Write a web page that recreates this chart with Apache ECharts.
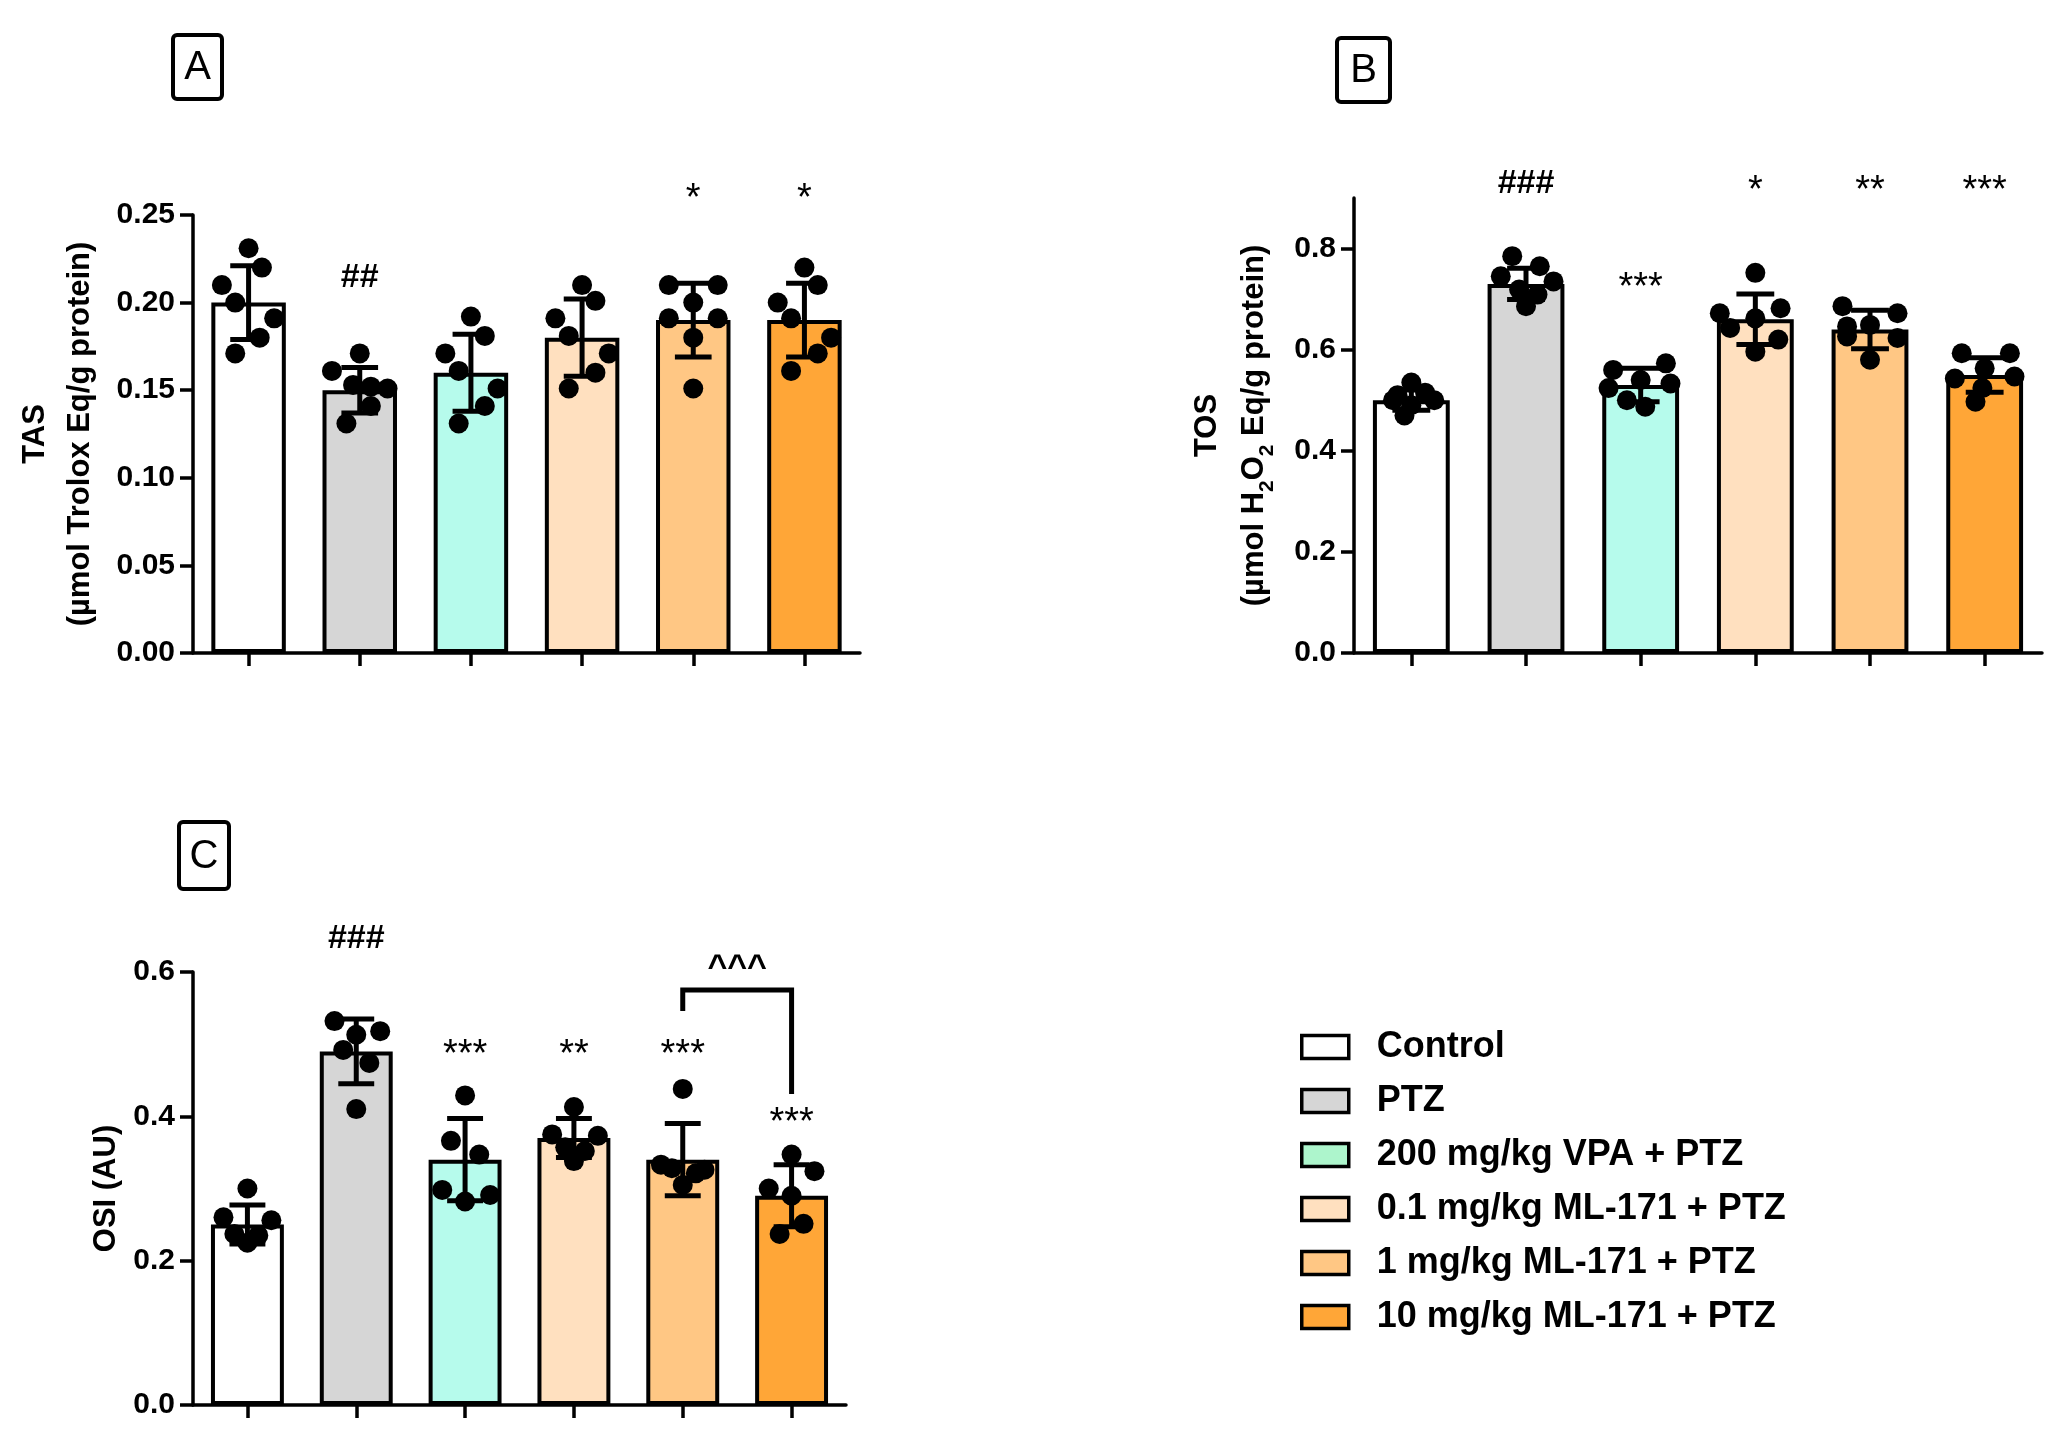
<!DOCTYPE html>
<html>
<head>
<meta charset="utf-8">
<title>TAS / TOS / OSI</title>
<script src="https://cdn.jsdelivr.net/npm/echarts@6.0.0/dist/echarts.min.js"></script>
<style>
  html, body { margin: 0; padding: 0; background: #fff; }
  #chart { width: 2070px; height: 1448px; }
</style>
</head>
<body>
<div id="chart"></div>
<script>
// groups, same order in every panel
var groups = ['Control', 'PTZ', '200 mg/kg VPA + PTZ', '0.1 mg/kg ML-171 + PTZ',
  '1 mg/kg ML-171 + PTZ', '10 mg/kg ML-171 + PTZ']
var barColors = ['#ffffff', '#d6d6d6', '#b6fbec', '#ffe0bf', '#ffc784', '#ffa637']
var legendColors = ['#ffffff', '#d6d6d6', '#adf5cc', '#ffe0bf', '#ffc784', '#ffa637']

// A - TAS
var tasMean = [0.20, 0.15, 0.16, 0.18, 0.19, 0.19]
var tasSd = [0.021, 0.013, 0.022, 0.022, 0.021, 0.021]
var tasDots = [
  [0.231, 0.220, 0.210, 0.200, 0.191, 0.180, 0.171],
  [0.171, 0.161, 0.153, 0.152, 0.151, 0.141, 0.131],
  [0.192, 0.181, 0.171, 0.161, 0.151, 0.141, 0.131],
  [0.210, 0.201, 0.191, 0.181, 0.171, 0.160, 0.151],
  [0.210, 0.210, 0.200, 0.191, 0.191, 0.180, 0.151],
  [0.220, 0.210, 0.200, 0.191, 0.180, 0.171, 0.161]
]
var tasJitter = [
  [0, 0.12, -0.24, -0.12, 0.23, 0.10, -0.12],
  [0, -0.25, -0.06, 0.10, 0.25, 0.10, -0.12],
  [0, 0.125, -0.23, -0.11, 0.24, 0.125, -0.11],
  [0, 0.12, -0.24, -0.12, 0.24, 0.12, -0.12],
  [-0.22, 0.22, 0, -0.22, 0.22, 0, 0],
  [0, 0.12, -0.24, -0.12, 0.24, 0.12, -0.12]
]
var tasSigns = ['', '##', '', '', '*', '*']

// B - TOS
var tosMean = [0.50, 0.73, 0.53, 0.66, 0.64, 0.55]
var tosSd = [0.02, 0.031, 0.033, 0.05, 0.038, 0.034]
var tosDots = [
  [0.535, 0.515, 0.510, 0.500, 0.500, 0.490, 0.470],
  [0.785, 0.765, 0.745, 0.735, 0.719, 0.709, 0.686],
  [0.573, 0.560, 0.540, 0.533, 0.524, 0.500, 0.487],
  [0.752, 0.682, 0.672, 0.662, 0.643, 0.620, 0.596],
  [0.686, 0.672, 0.649, 0.646, 0.626, 0.623, 0.580],
  [0.593, 0.593, 0.563, 0.547, 0.543, 0.524, 0.497]
]
var tosJitter = [
  [0, 0.12, -0.12, -0.16, 0.2, 0, -0.06],
  [-0.12, 0.12, -0.22, 0.24, -0.06, 0.1, 0],
  [0.22, -0.24, 0, 0.26, -0.28, -0.12, 0.04],
  [0, 0.22, -0.31, 0, -0.22, 0.2, 0],
  [-0.24, 0.24, 0, -0.2, -0.2, 0.24, 0],
  [-0.2, 0.22, 0, 0.26, -0.26, -0.02, -0.08]
]
var tosSigns = ['', '###', '***', '*', '**', '***']

// C - OSI
var osiMean = [0.25, 0.49, 0.34, 0.37, 0.34, 0.29]
var osiSd = [0.027, 0.045, 0.057, 0.027, 0.05, 0.043]
var osiDots = [
  [0.300, 0.260, 0.256, 0.237, 0.235, 0.225],
  [0.532, 0.518, 0.513, 0.492, 0.474, 0.410],
  [0.429, 0.366, 0.347, 0.298, 0.291, 0.282],
  [0.413, 0.375, 0.373, 0.357, 0.352, 0.338],
  [0.438, 0.333, 0.326, 0.328, 0.321, 0.305],
  [0.347, 0.324, 0.300, 0.290, 0.251, 0.237]
]
var osiJitter = [
  [0, -0.22, 0.22, -0.12, 0.1, 0],
  [-0.2, 0.22, 0, -0.12, 0.12, 0],
  [0, -0.13, 0.13, -0.21, 0.23, 0],
  [0, -0.2, 0.22, -0.08, 0.1, 0],
  [0, -0.2, 0.2, -0.1, 0.12, 0],
  [0, 0.21, -0.21, 0, 0.11, -0.11]
]
var osiSigns = ['', '###', '***', '**', '***', '***']

// where the significance marks sit (value units)
var tasSignY = [0, 0.214, 0, 0, 0.263, 0.263]
var tosSignY = [0, 0.928, 0.736, 0.928, 0.928, 0.928]
var osiSignY = [0, 0.646, 0.495, 0.495, 0.495, 0.400]
// bracket between 1 and 10 mg/kg ML-171 in panel C
var bracket = { from: 4, to: 5, leftY: 0.546, topY: 0.575, rightY: 0.431, textY: 0.616, text: '^^^' }

var FONT = '"Liberation Sans", Arial, Helvetica, sans-serif'

var panels = [
  { grid: { left: 193, top: 215, width: 667, height: 438 }, max: 0.25, interval: 0.05, digits: 2,
    ticks: null, name: 'TAS\n(µmol Trolox Eq/g protein)', nameGap: 90, nameLine: 45,
    mean: tasMean, sd: tasSd, dots: tasDots, jitter: tasJitter, signs: tasSigns, signY: tasSignY },
  { grid: { left: 1354, top: 198, width: 688, height: 455 }, max: 0.9, interval: 0.2, digits: 1,
    ticks: [0, 0.2, 0.4, 0.6, 0.8], name: 'TOS\n(µmol H{s|2}O{s|2} Eq/g protein)', nameGap: 76, nameLine: 47,
    mean: tosMean, sd: tosSd, dots: tosDots, jitter: tosJitter, signs: tosSigns, signY: tosSignY },
  { grid: { left: 193, top: 972, width: 653, height: 433 }, max: 0.6, interval: 0.2, digits: 1,
    ticks: null, name: 'OSI (AU)', nameGap: 70, nameLine: 34,
    mean: osiMean, sd: osiSd, dots: osiDots, jitter: osiJitter, signs: osiSigns, signY: osiSignY }
]

var AXIS_W = 3.5

function errorBarItem (params, api) {
  var x = api.value(0)
  var m = api.value(1)
  var sd = api.value(2)
  var top = api.coord([x, m + sd])
  var bot = api.coord([x, m - sd])
  var half = api.size([1, 0])[0] * 0.165
  var st = { stroke: '#000', lineWidth: 5 }
  return {
    type: 'group',
    children: [
      { type: 'line', shape: { x1: top[0], y1: top[1], x2: bot[0], y2: bot[1] }, style: st },
      { type: 'line', shape: { x1: top[0] - half, y1: top[1], x2: top[0] + half, y2: top[1] }, style: st },
      { type: 'line', shape: { x1: bot[0] - half, y1: bot[1], x2: bot[0] + half, y2: bot[1] }, style: st }
    ]
  }
}

function signItem (signs) {
  return function (params, api) {
    var i = api.value(0)
    var text = signs[i]
    if (!text) return null
    var p = api.coord([i, api.value(1)])
    var isStar = text.charAt(0) === '*'
    var size = isStar ? 38 : 34
    return {
      type: 'text',
      x: p[0],
      y: p[1] + (isStar ? size * 0.2 : 0),
      style: {
        text: text, fill: '#000', align: 'center', verticalAlign: 'middle',
        fontFamily: FONT, fontSize: size, fontWeight: isStar ? 'normal' : 'bold'
      }
    }
  }
}

var grids = [], xAxes = [], yAxes = [], series = []

panels.forEach(function (p, k) {
  grids.push(Object.assign({ outerBoundsMode: 'none', containLabel: false }, p.grid))

  xAxes.push({
    type: 'category', gridIndex: k, data: groups,
    axisLine: { show: true, onZero: false, lineStyle: { color: '#000', width: AXIS_W } },
    axisTick: { show: true, interval: 0, alignWithLabel: true, length: 13,
      lineStyle: { color: '#000', width: AXIS_W } },
    axisLabel: { show: false, interval: 0 },
    splitLine: { show: false }
  })

  var yTick = { show: true, length: 13, lineStyle: { color: '#000', width: AXIS_W } }
  var yLabel = {
    margin: 18, color: '#000', fontFamily: FONT, fontSize: 30, fontWeight: 'bold',
    formatter: (function (d) { return function (v) { return v.toFixed(d) } })(p.digits)
  }
  if (p.ticks) {
    yTick.customValues = p.ticks
    yLabel.customValues = p.ticks
  }
  yAxes.push({
    type: 'value', gridIndex: k, min: 0, max: p.max, interval: p.interval,
    axisLine: { show: true, onZero: false, lineStyle: { color: '#000', width: AXIS_W } },
    axisTick: yTick,
    axisLabel: yLabel,
    splitLine: { show: false },
    name: p.name, nameLocation: 'middle', nameRotate: 90, nameGap: p.nameGap,
    nameTextStyle: {
      color: '#000', fontFamily: FONT, fontSize: 31, fontWeight: 'bold', lineHeight: p.nameLine,
      rich: { s: { fontFamily: FONT, fontSize: 21, fontWeight: 'bold', verticalAlign: 'bottom', lineHeight: 30 } }
    }
  })

  // one bar series per group so the legend can pick them up
  groups.forEach(function (g, i) {
    var data = groups.map(function (_, j) { return j === i ? p.mean[i] : '-' })
    series.push({
      type: 'bar', name: g, xAxisIndex: k, yAxisIndex: k, stack: 'panel' + k,
      barWidth: '67%', data: data, silent: true,
      itemStyle: { color: barColors[i], borderColor: '#000', borderWidth: 4, opacity: 1 }
    })
  })

  series.push({
    type: 'custom', xAxisIndex: k, yAxisIndex: k, silent: true, z: 4,
    renderItem: errorBarItem,
    data: p.mean.map(function (m, i) { return [i, m, p.sd[i]] })
  })

  var pts = []
  p.dots.forEach(function (vals, i) {
    vals.forEach(function (v, j) { pts.push([i + p.jitter[i][j], v]) })
  })
  series.push({
    type: 'scatter', xAxisIndex: 3 + k, yAxisIndex: k, silent: true, z: 5,
    symbol: 'circle', symbolSize: 20, itemStyle: { color: '#000', opacity: 1 }, data: pts
  })

  series.push({
    type: 'custom', xAxisIndex: k, yAxisIndex: k, silent: true, z: 6, clip: false,
    renderItem: signItem(p.signs),
    data: p.signY.map(function (y, i) { return [i, y] })
  })
})

// hidden value axes used to spread the dots inside each bar
panels.forEach(function (p, k) {
  xAxes.push({ type: 'value', gridIndex: k, min: -0.5, max: 5.5, show: false })
})

// comparison bracket in panel C
series.push({
  type: 'custom', xAxisIndex: 2, yAxisIndex: 2, silent: true, z: 6, clip: false,
  renderItem: function (params, api) {
    var a = api.coord([bracket.from, bracket.leftY])
    var b = api.coord([bracket.from, bracket.topY])
    var c = api.coord([bracket.to, bracket.topY])
    var d = api.coord([bracket.to, bracket.rightY])
    var t = api.coord([bracket.from, bracket.textY])
    return {
      type: 'group',
      children: [
        { type: 'polyline', shape: { points: [a, b, c, d] },
          style: { stroke: '#000', lineWidth: 5, fill: null } },
        { type: 'text', x: (b[0] + c[0]) / 2, y: t[1] + 7,
          style: { text: bracket.text, fill: '#000', align: 'center', verticalAlign: 'middle',
            fontFamily: FONT, fontSize: 34, fontWeight: 'bold' } }
      ]
    }
  },
  data: [[bracket.from, bracket.topY]]
})

function panelLabel (letter, x, y, w, h) {
  return {
    type: 'group', left: x, top: y,
    children: [
      { type: 'rect', shape: { x: 0, y: 0, width: w, height: h, r: 4 },
        style: { fill: '#fff', stroke: '#000', lineWidth: 4 } },
      { type: 'text', x: w / 2, y: h / 2 + 1,
        style: { text: letter, fill: '#000', align: 'center', verticalAlign: 'middle',
          fontFamily: FONT, fontSize: 40 } }
    ]
  }
}

var chart = echarts.init(document.getElementById('chart'))
chart.setOption({
  backgroundColor: '#fff',
  animation: false,
  grid: grids,
  xAxis: xAxes,
  yAxis: yAxes,
  legend: {
    orient: 'vertical', left: 1300, top: 1029, padding: 0,
    icon: 'rect', itemWidth: 47, itemHeight: 23, itemGap: 18,
    selectedMode: false,
    itemStyle: { borderColor: '#000', borderWidth: 3.5 },
    textStyle: { color: '#000', fontFamily: FONT, fontSize: 36, fontWeight: 'bold',
      padding: [0, 0, 0, 23] },
    data: groups.map(function (g, i) {
      return { name: g, itemStyle: { color: legendColors[i], borderColor: '#000', borderWidth: 3.5 } }
    })
  },
  graphic: [
    panelLabel('A', 171, 33, 49, 64),
    panelLabel('B', 1335, 36, 53, 64),
    panelLabel('C', 177, 820, 50, 67)
  ],
  series: series
})
</script>
</body>
</html>
